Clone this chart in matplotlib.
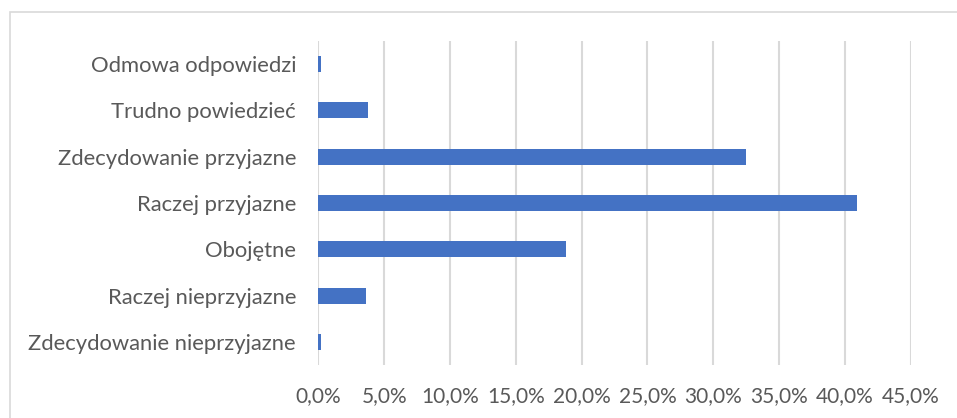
import matplotlib.pyplot as plt
from matplotlib.patches import Rectangle
from matplotlib.ticker import FuncFormatter, MultipleLocator

# ****** Data ******
categories = ['Zdecydowanie nieprzyjazne', 'Raczej nieprzyjazne', 'Obojętne',
              'Raczej przyjazne', 'Zdecydowanie przyjazne', 'Trudno powiedzieć',
              'Odmowa odpowiedzi']
shares = [0.2, 3.6, 18.8, 40.9, 32.5, 3.8, 0.2]

bar_color = '#4472C4'
text_color = '#595959'
grid_color = '#D9D9D9'

plt.rcParams['font.family'] = ['Lato', 'DejaVu Sans']

fig = plt.figure(figsize=(9.57, 4.18), dpi=100)
ax = fig.add_axes([0.3326, 0.1268, 0.619, 0.7755])

# --- Chart border (top and left edges visible)
fig.patches.append(Rectangle((10 / 957, -0.1), 1.2, 1 - 12 / 418 + 0.1,
                             transform=fig.transFigure, fill=False,
                             edgecolor=grid_color, linewidth=1.2))

# --- Bars
y = range(len(categories))
ax.barh(y, shares, height=0.345, color=bar_color, zorder=3)

ax.set_xlim(0, 45)
ax.set_ylim(-0.5, len(categories) - 0.5)
ax.xaxis.set_major_locator(MultipleLocator(5))
ax.xaxis.set_major_formatter(FuncFormatter(lambda v, p: f'{v:.1f}%'.replace('.', ',')))
ax.set_yticks(list(y))
ax.set_yticklabels(categories)

ax.grid(axis='x', color=grid_color, linewidth=1.5, zorder=0)
for side in ['top', 'right', 'bottom', 'left']:
    ax.spines[side].set_visible(False)

ax.tick_params(axis='both', length=0, colors=text_color)
ax.tick_params(axis='y', labelsize=15.8, pad=16)
ax.tick_params(axis='x', labelsize=15, pad=15.5)

fig.savefig('out.png', dpi=100)
